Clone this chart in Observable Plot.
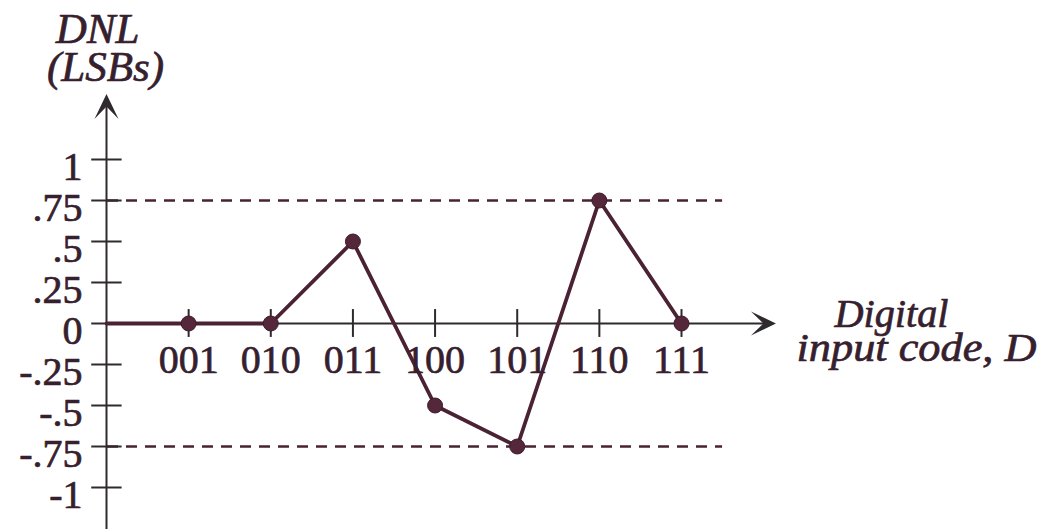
<!DOCTYPE html>
<html>
<head>
<meta charset="utf-8">
<script src="https://cdn.jsdelivr.net/npm/d3@7"></script>
<script src="https://cdn.jsdelivr.net/npm/@observablehq/plot@0.6"></script>
<style>
  body { margin: 0; background: #fff; }
  #chart svg { display: block; }
</style>
</head>
<body>
<div id="chart"></div>
<script>
// Differential nonlinearity of a 3-bit converter, one value per input code
const codes = ["001", "010", "011", "100", "101", "110", "111"];
const dnl = [0, 0, 0.5, -0.5, -0.75, 0.75, 0];

// Vertical axis ticks and their printed labels
const yTicks = [1, 0.75, 0.5, 0.25, 0, -0.25, -0.5, -0.75, -1];
const yTickLabels = ["1", ".75", ".5", ".25", "0", "-.25", "-.5", "-.75", "-1"];

// Dashed reference levels
const limits = [0.75, -0.75];

// Axis extents (in data units) including the arrow tips
const xAxisEnd = 8.15;
const yAxisTop = 1.40;
const yAxisBottom = -1.35;
const limitEnd = 7.5;

const points = codes.map((code, i) => ({code, k: i + 1, dnl: dnl[i]}));
const path = [{k: 0, dnl: 0}, ...points];

const ink = "#2f2a2d";
const wine = "#4a2233";
const textInk = "#36202e";

// Filled "stealth" arrowhead pointing up, tip at the origin
const stealth = {
  draw(ctx, size) {
    const L = Math.sqrt(size / Math.PI);
    ctx.moveTo(0, 0);
    ctx.lineTo(-0.48 * L, L);
    ctx.lineTo(0, 0.5 * L);
    ctx.lineTo(0.48 * L, L);
    ctx.closePath();
  }
};

const label = {fill: textInk, stroke: textInk, strokeWidth: 0.7};

const chart = Plot.plot({
  width: 1046,
  height: 529,
  margin: 0,
  x: {domain: [0, 7], range: [106, 681], axis: null},
  y: {domain: [-1, 1], range: [487, 159], axis: null},
  style: {fontFamily: "'Liberation Serif', 'DejaVu Serif', serif", background: "#fff"},
  marks: [
    // dashed limit lines
    Plot.ruleY(limits, {x1: 0, x2: limitEnd, stroke: wine, strokeWidth: 2.5, strokeDasharray: "11,8", strokeDashoffset: -20}),
    // x axis with arrow
    Plot.ruleY([0], {x1: 0, x2: xAxisEnd - 0.1, stroke: ink, strokeWidth: 2}),
    Plot.dot([{k: xAxisEnd, v: 0}], {x: "k", y: "v", r: 25, symbol: stealth, rotate: 90, fill: ink, stroke: "none"}),
    // y axis with arrow
    Plot.ruleX([0], {y1: yAxisBottom, y2: yAxisTop - 0.05, stroke: ink, strokeWidth: 2}),
    Plot.dot([{k: 0, v: yAxisTop}], {x: "k", y: "v", r: 25, symbol: stealth, rotate: 0, fill: ink, stroke: "none"}),
    // tick marks crossing the axes
    Plot.ruleY(yTicks, {x1: -0.18, x2: 0.19, stroke: ink, strokeWidth: 2}),
    Plot.ruleX(points, {x: "k", y1: -0.085, y2: 0.085, stroke: ink, strokeWidth: 2}),
    // DNL trace
    Plot.line(path, {x: "k", y: "dnl", stroke: wine, strokeWidth: 3.8}),
    Plot.dot(points, {x: "k", y: "dnl", r: 7.5, fill: "#55273a", stroke: "#3e1b2a", strokeWidth: 1}),
    // tick labels
    Plot.text(yTicks, {x: 0, y: d => d, text: (d, i) => yTickLabels[i], textAnchor: "end", lineAnchor: "middle", dx: -24, dy: 8, fontSize: 40, ...label}),
    Plot.text(points, {x: "k", y: 0, text: "code", textAnchor: "middle", lineAnchor: "middle", dy: 37, fontSize: 40, ...label}),
    // axis titles
    Plot.text(["DNL"], {frameAnchor: "top-left", dx: 97, dy: 42, textAnchor: "middle", lineAnchor: "bottom", fontSize: 43, fontStyle: "italic", ...label}),
    Plot.text(["(LSBs)"], {frameAnchor: "top-left", dx: 105, dy: 80, textAnchor: "middle", lineAnchor: "bottom", fontSize: 43, fontStyle: "italic", ...label}),
    Plot.text(["Digital"], {frameAnchor: "top-left", dx: 834, dy: 326, textAnchor: "start", lineAnchor: "bottom", fontSize: 40, fontStyle: "italic", className: "title-x1", ...label}),
    Plot.text(["input code, D"], {frameAnchor: "top-left", dx: 796, dy: 360, textAnchor: "start", lineAnchor: "bottom", fontSize: 40, fontStyle: "italic", className: "title-x2", ...label})
  ]
});

// the horizontal title is set a little wider than the font's natural width
d3.select(chart).selectAll(".title-x1 text").attr("textLength", 114).attr("lengthAdjust", "spacingAndGlyphs");
d3.select(chart).selectAll(".title-x2 text").attr("textLength", 240).attr("lengthAdjust", "spacingAndGlyphs");

document.getElementById("chart").appendChild(chart);
</script>
</body>
</html>
